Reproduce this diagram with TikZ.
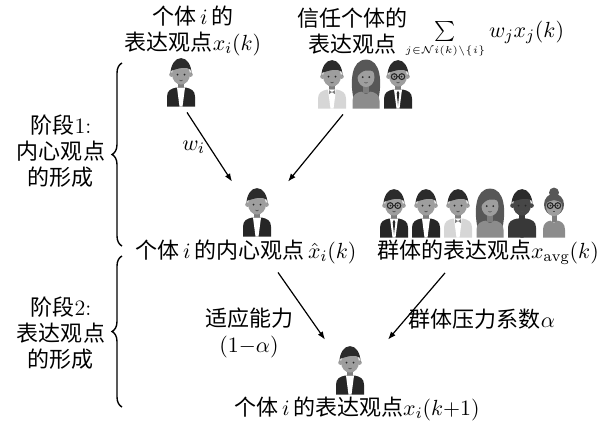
\documentclass[tikz,border=0pt]{standalone}
\usepackage{fontspec}
\newfontfamily\cjk{Noto Sans CJK SC}
\usepackage{tikz}
\usetikzlibrary{arrows.meta,positioning,calc,decorations.pathreplacing}

% greys for the people
\colorlet{skin}{black!38}
\colorlet{skindark}{black!72}
\colorlet{hair}{black!83}
\colorlet{womanhair}{black!66}
\colorlet{suit}{black!85}
\colorlet{suitlight}{black!16}
\colorlet{shirt}{white}
\colorlet{blouse}{black!45}
\colorlet{darkshirt}{black!78}

\tikzset{%
  % text and placeholders
  txt/.style={font=\fontsize{11}{13}\selectfont\cjk, align=center, inner sep=1pt},
  avatar/.style={minimum width=15pt, minimum height=25pt, inner sep=0pt},
  % edge styles
  rel/.style={-{Latex[length=4pt,width=3pt]}, line width=0.6pt},
  stage/.style={decorate, decoration={brace, amplitude=5pt}, line width=0.7pt},
  % people (origin = top centre, y runs down)
  pics/man/.style n args={3}{code={
    \fill[#1!80!black] (-3,25) rectangle (3,33);
    \fill[#2] (-14,50) -- (-14,40) .. controls (-14,34) and (-10,32) .. (-5,31)
      -- (5,31) .. controls (10,32) and (14,34) .. (14,40) -- (14,50) -- cycle;
    \fill[#3] (-4,31) -- (4,31) -- (1.5,50) -- (-1.5,50) -- cycle;
    \fill[#1] (-9.5,18) circle[radius=2.3] (9.5,18) circle[radius=2.3];
    \fill[#1] (0,17.5) ellipse[x radius=9, y radius=10.5];
    \fill[hair] (-10.5,17) arc[start angle=180, end angle=360, x radius=10.5, y radius=15.5]
      -- (9.5,13) .. controls (5,9) and (-3,12) .. (-9.5,14) -- cycle;
    \fill[black!85] (-3.5,18) circle[radius=1] (3.5,18) circle[radius=1];
    \draw[black!70, line width=0.3pt] (-1.6,23.5) .. controls (0,24.6) .. (1.6,23.5);
  }},
  pics/woman/.style n args={2}{code={
    \fill[#1] (-12.5,40) .. controls (-16,24) and (-15,1) .. (0,1)
      .. controls (15,1) and (16,24) .. (12.5,40) -- cycle;
    \fill[skin!80!black] (-3,25) rectangle (3,34);
    \fill[#2] (-13.5,50) -- (-13.5,42) .. controls (-13.5,36) and (-9,33.5) .. (-4,33)
      .. controls (-2,36) and (2,36) .. (4,33) .. controls (9,33.5) and (13.5,36) .. (13.5,42)
      -- (13.5,50) -- cycle;
    \fill[skin] (0,18.5) ellipse[x radius=8.5, y radius=10];
    \fill[#1] (-9,19) .. controls (-10,6) and (2,3) .. (9.5,14)
      .. controls (3,10) and (-5,11) .. cycle;
    \fill[black!85] (-3.3,18.5) circle[radius=1] (3.3,18.5) circle[radius=1];
    \draw[black!70, line width=0.3pt] (-1.5,23.8) .. controls (0,24.8) .. (1.5,23.8);
  }},
  pics/bunwoman/.style n args={2}{code={
    \fill[#1] (0,5) circle[radius=5];
    \fill[#1] (0,17) ellipse[x radius=10, y radius=11];
    \fill[skin!80!black] (-2.5,25) rectangle (2.5,34);
    \fill[#2] (-11,50) -- (-11,42) .. controls (-11,36) and (-7,33.5) .. (-3.5,33)
      .. controls (-1.5,35.5) and (1.5,35.5) .. (3.5,33) .. controls (7,33.5) and (11,36) .. (11,42)
      -- (11,50) -- cycle;
    \fill[skin] (0,19) ellipse[x radius=8, y radius=9.5];
    \fill[#1] (-9,17) arc[start angle=180, end angle=360, x radius=9, y radius=9]
      .. controls (4,11) and (-4,11) .. cycle;
    \fill[black!85] (-3.5,18) circle[radius=1] (3.5,18) circle[radius=1];
    \draw[black!70, line width=0.3pt] (-1.4,23.8) .. controls (0,24.7) .. (1.4,23.8);
  }},
  pics/glasses/.style={code={
    \draw[black!85, line width=0.55pt] (-3.8,18) circle[radius=2.9] (3.8,18) circle[radius=2.9]
      (-0.9,18) -- (0.9,18);
  }},
  pics/tie/.style={code={
    \fill[hair] (0,32) -- (1.3,34.5) -- (0,47) -- (-1.3,34.5) -- cycle;
  }},
  pics/bowtie/.style={code={
    \fill[black!50] (-3,31.5) -- (0,33.5) -- (-3,35.5) -- cycle (3,31.5) -- (0,33.5) -- (3,35.5) -- cycle;
  }},
}

\begin{document}
\begin{tikzpicture}[x=0.5pt, y=-0.5pt]
  \useasboundingbox (0,0) rectangle (609,428);

  % stage 1: forming the inner opinion
  \node[txt] (selflabel) at (193,31) {个体\,$i$\,的\\表达观点$x_i(k)$};
  \node[txt] (trustlabel) at (352,31) {信任个体的\\表达观点};
  \node[txt, anchor=base west] (trustsum) at (403,37)
    {$\sum\limits_{\scriptscriptstyle j\in\mathcal{N}i(k)\setminus\{i\}} w_j x_j(k)$};

  \node[avatar] (self) at (181,82) {};
  \pic at (self.north) {man={skin}{suit}{shirt}};

  \foreach \x/\n in {332/1, 366/2, 398/3}
    \node[avatar] (trust\n) at (\x,84) {};
  \pic at (trust1.north) {man={skin}{suitlight}{shirt}};
  \pic at (trust1.north) {bowtie};
  \pic at (trust2.north) {woman={womanhair}{blouse}};
  \pic at (trust3.north) {man={skin}{suit}{shirt}};
  \pic at (trust3.north) {tie};
  \pic at (trust3.north) {glasses};

  \node[avatar] (inner) at (257,212) {};
  \pic at (inner.north) {man={skin}{suit}{shirt}};

  \draw[rel] ($(self.south)+(6,5)$) -- node[txt, left=1pt] {$w_i$} ($(inner.north)+(-25,-5)$);
  \draw[rel] ($(trust1.south)+(11,5)$) -- ($(inner.north)+(31,-5)$);

  % stage 2: forming the expressed opinion
  \node[txt] (innerlabel) at (246,252) {个体\,$i$\,的内心观点\,$\hat{x}_i(k)$};
  \node[txt] (crowdlabel) at (488,252) {群体的表达观点$x_{\mathrm{avg}}(k)$};

  \foreach \n in {1,...,6}
    \node[avatar] (crowd\n) at ({362+32*\n},213) {};
  \pic at (crowd1.north) {man={skin}{suit}{shirt}};
  \pic at (crowd1.north) {tie};
  \pic at (crowd1.north) {glasses};
  \pic at (crowd2.north) {man={skin}{suit}{shirt}};
  \pic at (crowd3.north) {man={skin}{suitlight}{shirt}};
  \pic at (crowd3.north) {bowtie};
  \pic at (crowd4.north) {woman={womanhair}{blouse}};
  \pic at (crowd5.north) {man={skindark}{darkshirt}{darkshirt}};
  \pic at (crowd6.north) {bunwoman={womanhair}{blouse}};
  \pic at (crowd6.north) {glasses};

  \node[avatar] (final) at (350,370) {};
  \pic at (final.north) {man={skin}{suit}{shirt}};
  \node[txt] (finallabel) at (357,409) {个体\,$i$\,的表达观点$x_i(k{+}1)$};

  \draw[rel] ($(innerlabel.south)+(32,6)$) -- ($(final.north)+(-25,-5)$);
  \draw[rel] ($(crowdlabel.south)+(-43,6)$) -- ($(final.north)+(38,-5)$);
  \node[txt] (adapt) at (249,333) {适应能力\\$(1{-}\alpha)$};
  \node[txt] (pressure) at (482,319) {群体压力系数$\alpha$};

  % stage braces
  \coordinate (s1top) at (122,63);
  \coordinate (s1bot) at (122,246);
  \coordinate (s2top) at (122,256);
  \coordinate (s2bot) at (122,407);
  \draw[stage] (s1bot) -- (s1top);
  \draw[stage] (s2bot) -- (s2top);
  \node[txt] (stage1) at (61,151) {阶段{\rmfamily 1:}\\内心观点\\的形成};
  \node[txt] (stage2) at (61,333) {阶段{\rmfamily 2:}\\表达观点\\的形成};
\end{tikzpicture}
\end{document}
